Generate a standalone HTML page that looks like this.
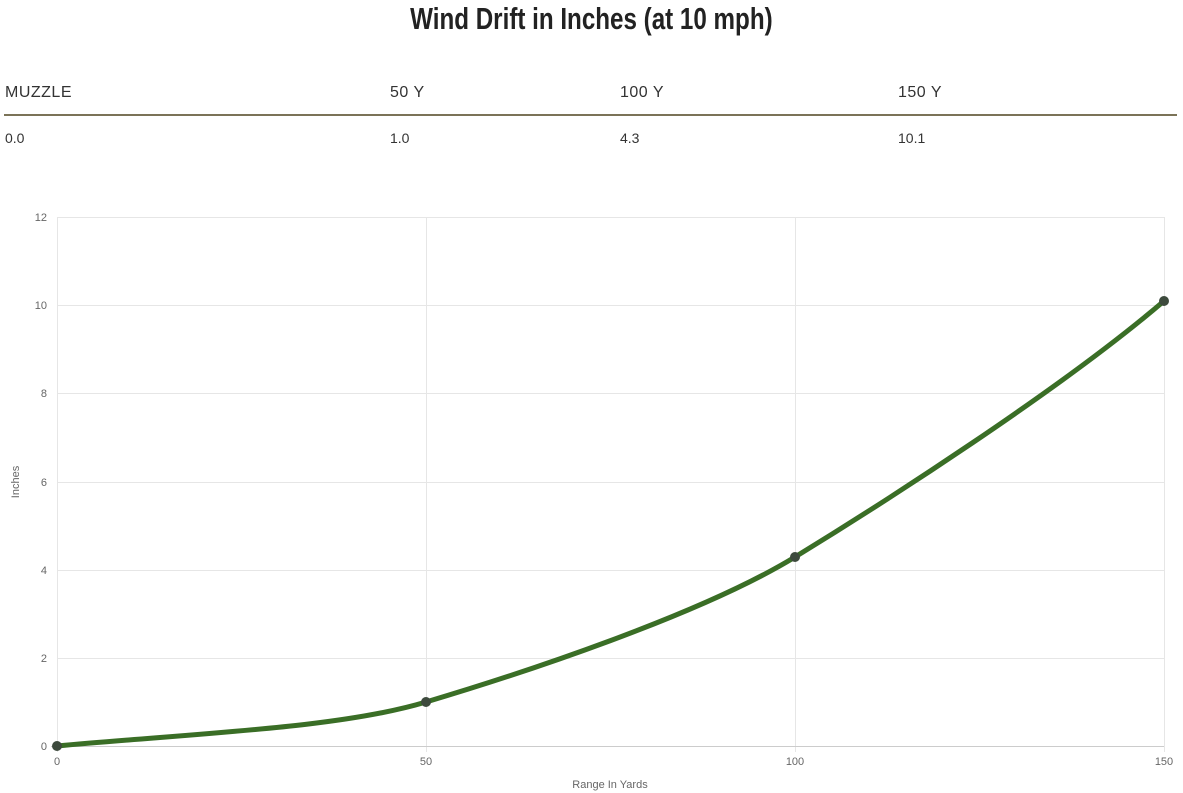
<!DOCTYPE html>
<html><head><style>
body{margin:0;width:1183px;height:793px;background:#fff;font-family:"Liberation Sans",sans-serif;position:relative;overflow:hidden}
.t{position:absolute;top:1px;left:0;width:1183px;text-align:center;font-family:"Liberation Sans",sans-serif;font-weight:bold;font-size:31px;color:#222;line-height:36px;transform:scaleX(0.78);transform-origin:591px 0}
.h{position:absolute;top:84px;font-size:16px;color:#333;letter-spacing:0.5px}
.v{position:absolute;top:130px;font-size:14px;color:#333}
.rule{position:absolute;left:4px;width:1173px;top:114px;height:2px;background:#7b7358}
</style></head><body>
<div class="t">Wind Drift in Inches (at 10 mph)</div>
<div class="h" style="left:5px">MUZZLE</div>
<div class="h" style="left:390px">50 Y</div>
<div class="h" style="left:620px">100 Y</div>
<div class="h" style="left:898px">150 Y</div>
<div class="rule"></div>
<div class="v" style="left:5px">0.0</div>
<div class="v" style="left:390px">1.0</div>
<div class="v" style="left:620px">4.3</div>
<div class="v" style="left:898px">10.1</div>
<svg width="1183" height="793" style="position:absolute;left:0;top:0" font-family="Liberation Sans, sans-serif" font-size="11" fill="#666">
<g stroke="#e6e6e6" stroke-width="1">
<line x1="57" y1="217.5" x2="1164" y2="217.5"/>
<line x1="57" y1="305.5" x2="1164" y2="305.5"/>
<line x1="57" y1="393.5" x2="1164" y2="393.5"/>
<line x1="57" y1="482.5" x2="1164" y2="482.5"/>
<line x1="57" y1="570.5" x2="1164" y2="570.5"/>
<line x1="57" y1="658.5" x2="1164" y2="658.5"/>
<line x1="57.5" y1="217" x2="57.5" y2="752"/>
<line x1="426.5" y1="217" x2="426.5" y2="752"/>
<line x1="795.5" y1="217" x2="795.5" y2="752"/>
<line x1="1164.5" y1="217" x2="1164.5" y2="752"/>
</g>
<line x1="51" y1="746.5" x2="1164" y2="746.5" stroke="#ccc"/>
<g text-anchor="end">
<text x="47" y="221">12</text><text x="47" y="309">10</text><text x="47" y="397">8</text>
<text x="47" y="486">6</text><text x="47" y="574">4</text><text x="47" y="662">2</text><text x="47" y="750">0</text>
</g>
<g text-anchor="middle">
<text x="57" y="765">0</text><text x="426" y="765">50</text><text x="795" y="765">100</text><text x="1164" y="765">150</text>
<text x="610" y="788">Range In Yards</text>
<text transform="translate(19,482) rotate(-90)">Inches</text>
</g>
<path d="M57,746 C200,733 340,728 426,702 C520,674 700,615 795,557 C880,505 1060,390 1164,301" fill="none" stroke="#3a6e26" stroke-width="5"/>
<g fill="#3d4a3d">
<circle cx="57" cy="746" r="5"/><circle cx="426" cy="702" r="5"/><circle cx="795" cy="557" r="5"/><circle cx="1164" cy="301" r="5"/>
</g>
</svg>
</body></html>
